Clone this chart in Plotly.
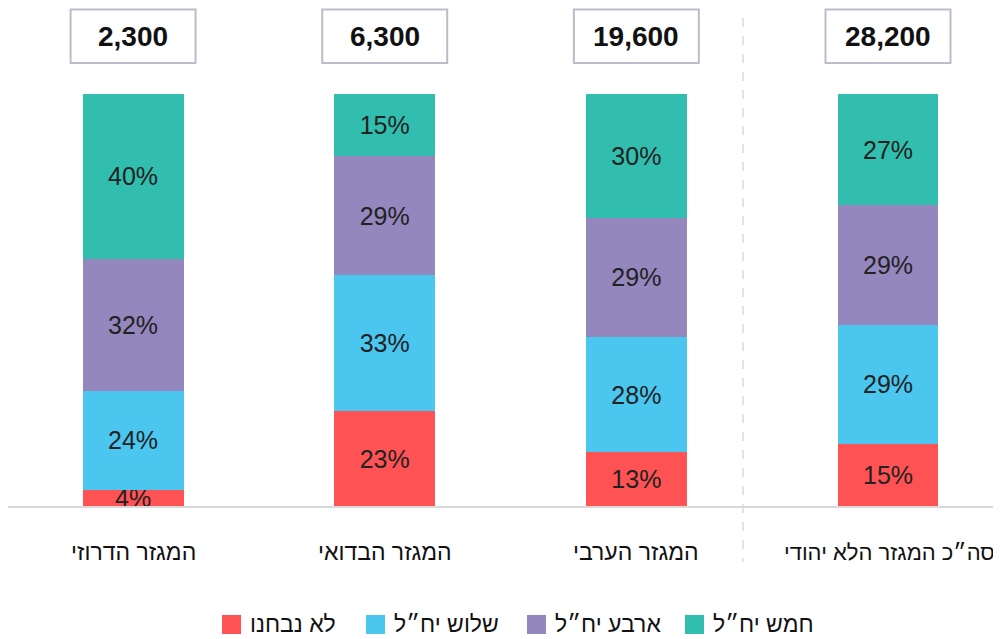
import plotly.graph_objects as go

# ---- data ----
categories = ["המגזר הדרוזי", "המגזר הבדואי", "המגזר הערבי", "סה״כ המגזר הלא יהודי"]
totals = ["2,300", "6,300", "19,600", "28,200"]
series_names = ["לא נבחנו", "שלוש יח״ל", "ארבע יח״ל", "חמש יח״ל"]
not_tested = [4, 23, 13, 15]
three_units = [24, 33, 28, 29]
four_units = [32, 29, 29, 29]
five_units = [40, 15, 30, 27]
series_values = [not_tested, three_units, four_units, five_units]
colors = ["#FF5254", "#4AC6EF", "#9487BE", "#32BEAE"]

FONT = "Liberation Sans, Arial, DejaVu Sans, sans-serif"

# page body has an 8px margin -> figure is drawn 8px in from the window corner
OFF = 8
W, H = 1001 - OFF, 639 - OFF
ML, MR, MT, MB = 0, 0, 94 - OFF, 133
PW = W - ML - MR
PH = H - MT - MB


def px_x(px):
    return (px - OFF - ML) / PW


def px_y(py):
    return (H - MB - (py - OFF)) / PH


xs = list(range(len(categories)))

fig = go.Figure()
for name, vals, col in zip(series_names, series_values, colors):
    fig.add_trace(go.Bar(
        x=xs, y=vals, name=name,
        marker=dict(color=col, line=dict(width=0)),
        width=0.401,
        text=[f"{v}%" for v in vals],
        textposition="inside",
        insidetextanchor="middle",
        textangle=0,
        insidetextfont=dict(family=FONT, size=25, color="#222222"),
        showlegend=False,
        hoverinfo="skip",
    ))

# total boxes
for i, t in enumerate(totals):
    half = 62.5 / 251.7
    fig.add_shape(type="rect", xref="x", yref="paper",
                  x0=i - half, x1=i + half, y0=px_y(63), y1=px_y(9.5),
                  line=dict(color="#BDBCCB", width=2), fillcolor="white", layer="below")
    fig.add_annotation(x=i, y=px_y(36), xref="x", yref="paper", text=f"<b>{t}</b>",
                       showarrow=False, xanchor="center", yanchor="middle",
                       font=dict(family=FONT, size=28, color="#111111"))

# category labels
for i, c in enumerate(categories):
    if i == len(categories) - 1:
        fig.add_annotation(x=px_x(997), y=px_y(552), xref="paper", yref="paper", text=c,
                           showarrow=False, xanchor="right", yanchor="middle",
                           font=dict(family=FONT, size=22, color="#111111"))
    else:
        fig.add_annotation(x=i, y=px_y(552), xref="x", yref="paper", text=c,
                           showarrow=False, xanchor="center", yanchor="middle",
                           font=dict(family=FONT, size=23, color="#111111"))

# dashed separator
fig.add_shape(type="line", xref="paper", yref="paper",
              x0=px_x(743), x1=px_x(743), y0=px_y(18), y1=px_y(562),
              line=dict(color="#DADADA", width=1.5, dash="dash"))

# manual legend
legend_sq = [222, 366, 527, 685]
for name, col, sx in zip(series_names, colors, legend_sq):
    fig.add_shape(type="rect", xref="paper", yref="paper",
                  x0=px_x(sx), x1=px_x(sx + 19), y0=px_y(634), y1=px_y(615),
                  line=dict(width=0), fillcolor=col)
    fig.add_annotation(x=px_x(sx + 26), y=px_y(624), xref="paper", yref="paper",
                       text=name, showarrow=False, xanchor="left", yanchor="middle",
                       font=dict(family=FONT, size=23, color="#111111"))

fig.update_layout(
    width=W, height=H,
    margin=dict(l=ML, r=MR, t=MT, b=MB, pad=0),
    barmode="stack",
    plot_bgcolor="white", paper_bgcolor="white",
    uniformtext=dict(minsize=25, mode="show"),
    xaxis=dict(range=[-0.497, 3.449], showticklabels=False, showgrid=False,
               zeroline=False, showline=True, linecolor="#D9D9D9", linewidth=1.5,
               ticks="", fixedrange=True),
    yaxis=dict(range=[0, 100], visible=False, fixedrange=True),
    showlegend=False,
    font=dict(family=FONT),
)

fig.write_html("out.html")
